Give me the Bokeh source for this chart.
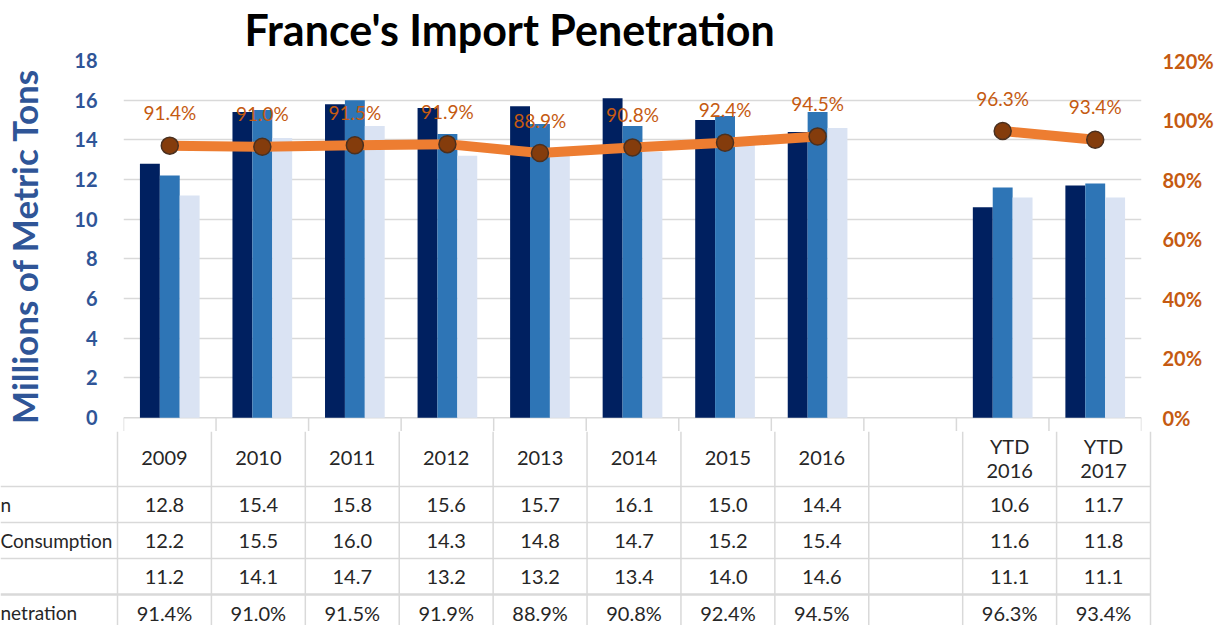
from bokeh.plotting import figure
from bokeh.models import Range1d, LinearAxis, FixedTicker, PrintfTickFormatter
from bokeh.embed import file_html
from bokeh.resources import INLINE
from bokeh.core.properties import value

# ---------------- data ----------------
title_text = "France's Import Penetration"
y_axis_title = "Millions of Metric Tons"
categories = ["2009", "2010", "2011", "2012", "2013", "2014", "2015", "2016", "", "YTD 2016", "YTD 2017"]
production = [12.8, 15.4, 15.8, 15.6, 15.7, 16.1, 15.0, 14.4, None, 10.6, 11.7]
consumption = [12.2, 15.5, 16.0, 14.3, 14.8, 14.7, 15.2, 15.4, None, 11.6, 11.8]
imports = [11.2, 14.1, 14.7, 13.2, 13.2, 13.4, 14.0, 14.6, None, 11.1, 11.1]
penetration = [91.4, 91.0, 91.5, 91.9, 88.9, 90.8, 92.4, 94.5, None, 96.3, 93.4]
# row labels as they are visible (cropped at the left edge) in the source picture
row_labels = ["n", "Consumption", "", "netration"]
left_ticks = [0, 2, 4, 6, 8, 10, 12, 14, 16, 18]
right_ticks = [0, 20, 40, 60, 80, 100, 120]

# ---------------- styles ----------------
FONT = "Lato"
C_DARK = "#002060"
C_MED = "#2E75B6"
C_LIGHT = "#DAE3F3"
C_LINE = "#ED7D31"
C_MARK = "#843C0C"
C_ORANGE_TXT = "#C55A11"
C_BLUE_TXT = "#2F5597"
C_GRID = "#D9D9D9"
C_TXT = "#262626"

W = 1216
FRAME_TOP = 55
PLOT_H = 362          # height of the 0..18 band
STUB = 14             # part of the table header drawn inside the chart figure
TOP_H = FRAME_TOP + PLOT_H + STUB
FRAME_L = 117
FRAME_R = 66
N = len(categories)
slot_px = (W - FRAME_L - FRAME_R) / N
Y_MAX = left_ticks[-1]
P_MAX = right_ticks[-1]
y_lo = -STUB * Y_MAX / PLOT_H
p_lo = y_lo * P_MAX / Y_MAX

xc = [i + 0.5 for i in range(N)]

# ---------------- chart ----------------
p = figure(width=W, height=TOP_H, x_range=Range1d(0, N), y_range=Range1d(y_lo, Y_MAX),
           x_axis_location=None, output_backend="svg", toolbar_location=None,
           min_border_left=FRAME_L, min_border_right=FRAME_R, min_border_top=FRAME_TOP,
           min_border_bottom=0)
p.outline_line_color = None
p.background_fill_color = "white"
p.xgrid.visible = False
p.ygrid.grid_line_color = C_GRID
p.ygrid.grid_line_width = 1.5
p.ygrid.ticker = FixedTicker(ticks=left_ticks[1:])

ya = p.yaxis[0]
ya.ticker = FixedTicker(ticks=left_ticks)
ya.axis_line_color = None
ya.major_tick_line_color = None
ya.minor_tick_line_color = None
ya.major_label_standoff = 20
ya.major_label_text_font = FONT
ya.major_label_text_font_style = "bold"
ya.major_label_text_font_size = "20px"
ya.major_label_text_color = C_BLUE_TXT
ya.axis_label = y_axis_title
ya.axis_label_text_font = FONT
ya.axis_label_text_font_style = "bold"
ya.axis_label_text_font_size = "35px"
ya.axis_label_text_color = C_BLUE_TXT
ya.axis_label_standoff = 26

p.extra_y_ranges = {"pct": Range1d(p_lo, P_MAX)}
ra = LinearAxis(y_range_name="pct", ticker=FixedTicker(ticks=right_ticks),
                formatter=PrintfTickFormatter(format="%d%%"))
ra.axis_line_color = None
ra.major_tick_line_color = None
ra.minor_tick_line_color = None
ra.major_label_standoff = 15
ra.major_label_text_font = FONT
ra.major_label_text_font_style = "bold"
ra.major_label_text_font_size = "20px"
ra.major_label_text_color = C_ORANGE_TXT
p.add_layout(ra, "right")

p.title.text = title_text
p.title.text_font = FONT
p.title.text_font_style = "bold"
p.title.text_font_size = "43px"
p.title.text_color = "#000000"
p.title.align = "left"
p.title.vertical_align = "top"
p.title.offset = 121
p.title.standoff = 7

# table top border and the start of its column lines (inside the chart figure)
p.segment(x0=[0], y0=[0], x1=[N], y1=[0], line_color=C_GRID, line_width=1.5)
p.segment(x0=list(range(N + 1)), y0=[0] * (N + 1), x1=list(range(N + 1)), y1=[y_lo * 1.5] * (N + 1),
          line_color=C_GRID, line_width=1.5)

bar_w = 0.215
series = [(production, C_DARK, -bar_w), (consumption, C_MED, 0.0), (imports, C_LIGHT, bar_w)]
for vals, col, off in series:
    xs = [xc[i] + off for i in range(N) if vals[i] is not None]
    tops = [vals[i] for i in range(N) if vals[i] is not None]
    p.vbar(x=xs, top=tops, width=bar_w, bottom=0, fill_color=col, line_color=None)

nan = float("nan")
line_y = [v if v is not None else nan for v in penetration]
p.line(x=xc, y=line_y, y_range_name="pct", line_color=C_LINE, line_width=10, line_join="round")
px = [xc[i] for i in range(N) if penetration[i] is not None]
py = [penetration[i] for i in range(N) if penetration[i] is not None]
p.scatter(x=px, y=py, y_range_name="pct", size=17, fill_color=C_MARK, line_color="#4a3020", line_width=1.5)
p.text(x=px, y=py, text=[f"{v:.1f}%" for v in py], y_range_name="pct",
       text_align="center", text_baseline="alphabetic", y_offset=-33,
       text_font=value(FONT), text_font_size=value("19px"), text_color=C_ORANGE_TXT)

# ---------------- table ----------------
TAB_H = 625 - TOP_H
t = figure(width=W, height=TAB_H,
           x_range=Range1d(-FRAME_L / slot_px, (W - FRAME_L) / slot_px),
           y_range=Range1d(TAB_H, 0),
           x_axis_location=None, y_axis_location=None, output_backend="svg",
           toolbar_location=None, min_border=0,
           min_border_left=0, min_border_right=0, min_border_top=0, min_border_bottom=0)
t.outline_line_color = None
t.grid.visible = False

header_h = 55
row_h = 36
rows_y = [header_h + k * row_h for k in range(len(row_labels) + 1)]

# grid lines
hx0 = [-FRAME_L / slot_px] * len(row_labels)
t.segment(x0=hx0, y0=rows_y[:-1], x1=[N] * len(row_labels), y1=rows_y[:-1],
          line_color=C_GRID, line_width=[1.5, 1.5, 1.5, 2.5])
t.segment(x0=list(range(N + 1)), y0=[0] * (N + 1), x1=list(range(N + 1)), y1=[TAB_H + 20] * (N + 1),
          line_color=C_GRID, line_width=1.5)

txt_kw = dict(text_font=value(FONT), text_font_size=value("20px"), text_color=C_TXT,
              text_align="center", text_baseline="middle")
# header
hx, hy, ht = [], [], []
for i, c in enumerate(categories):
    if not c:
        continue
    parts = c.split(" ")
    if len(parts) == 1:
        hx.append(xc[i]); hy.append(26); ht.append(c)
    else:
        for j, part in enumerate(parts):
            hx.append(xc[i]); hy.append(14 + j * 25); ht.append(part)
t.text(x=hx, y=hy, text=ht, **txt_kw)

rows = [production, consumption, imports, penetration]
for r, vals in enumerate(rows):
    cy = (rows_y[r] + rows_y[r + 1]) / 2
    xs = [xc[i] for i in range(N) if vals[i] is not None]
    if r == 3:
        labels = [f"{vals[i]:.1f}%" for i in range(N) if vals[i] is not None]
    else:
        labels = [f"{vals[i]:.1f}" for i in range(N) if vals[i] is not None]
    t.text(x=xs, y=[cy] * len(xs), text=labels, **txt_kw)

lab_idx = [r for r in range(len(row_labels)) if row_labels[r]]
t.text(x=[-FRAME_L / slot_px] * len(lab_idx),
       y=[(rows_y[r] + rows_y[r + 1]) / 2 for r in lab_idx],
       text=[row_labels[r] for r in lab_idx], text_font=value(FONT), text_font_size=value("19px"),
       text_color=C_TXT, text_align="left", text_baseline="middle")

open("out.html", "w").write(file_html([p, t], INLINE))
